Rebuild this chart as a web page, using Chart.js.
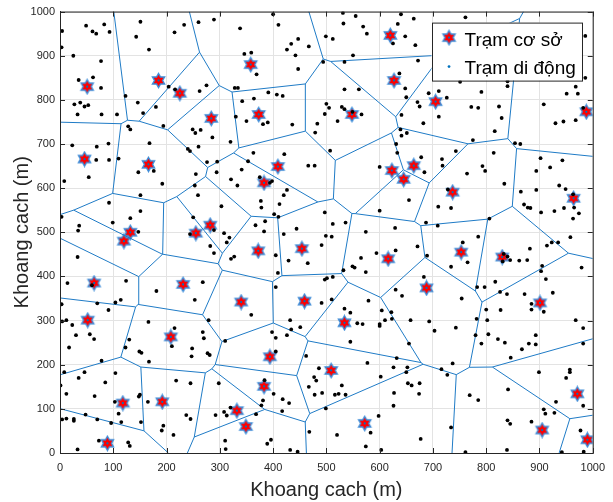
<!DOCTYPE html>
<html>
<head>
<meta charset="utf-8">
<script src="https://cdn.jsdelivr.net/npm/chart.js@4.4.1/dist/chart.umd.min.js"></script>
<style>
  html, body { margin: 0; padding: 0; background: #fff; }
</style>
</head>
<body>
<canvas id="voronoi-chart" width="613" height="502"></canvas>
<script>
// --- Datos ---
const seriesNames = ['Trạm cơ sở', 'Trạm di động'];
const axisTitle = 'Khoang cach (m)';
const axisMin = 0, axisMax = 1000, axisStep = 100;

// base stations (x, y) in metres
const baseStations = [
  [51,830],[46,666],[185,844],[225,815],[284,758],[166,654],[358,880],[373,767],[548,767],[620,946],
  [627,844],[705,796],[988,773],[409,649],[383,612],[282,516],[255,498],[132,500],[120,480],[64,385],
  [231,382],[372,458],[454,463],[340,342],[459,344],[623,640],[645,620],[664,651],[737,591],[616,440],
  [753,455],[830,444],[688,374],[964,577],[901,340],[52,301],[208,263],[118,113],[192,116],[89,22],
  [394,218],[383,151],[332,96],[349,60],[509,187],[534,295],[572,67],[905,52],[971,134],[990,30]
];

// mobile stations (x, y) in metres
const mobileStations = [
  [4,956],[49,968],[83,971],[61,955],[68,950],[93,954],[3,919],[25,900],[77,888],[35,845],
  [62,851],[77,827],[27,790],[38,794],[46,785],[53,788],[33,767],[78,767],[107,767],[23,697],
  [69,694],[91,701],[68,664],[92,664],[151,977],[143,943],[167,914],[215,953],[233,970],[260,976],
  [289,982],[204,830],[216,824],[123,809],[262,820],[275,833],[328,827],[146,794],[180,784],[156,770],
  [194,741],[249,733],[254,725],[264,732],[286,715],[320,705],[330,762],[240,689],[244,684],[260,694],
  [128,740],[132,733],[168,702],[110,667],
  [400,994],[338,962],[410,970],[531,997],[555,990],[532,973],[569,966],[576,950],[640,994],[664,984],
  [634,972],[625,928],[648,944],[667,924],[499,944],[512,938],[447,938],[434,927],[426,914],[467,921],
  [442,901],[447,870],[346,904],[359,907],[369,858],[550,901],[534,886],[494,886],[637,860],[648,826],
  [650,806],[334,827],[342,797],[364,803],[391,817],[407,812],[418,809],[350,752],[381,745],[390,749],
  [436,744],[534,824],[561,824],[500,791],[505,782],[529,784],[534,779],[549,773],[566,767],[497,768],
  [521,752],[483,746],[479,726],[641,766],[639,733],[641,719],[651,725],[631,700],[633,680],[507,685],
  [363,680],[421,677],
  [761,987],[986,945],[986,850],[672,889],[671,795],[675,785],[692,815],[711,820],[726,805],[711,762],
  [682,747],[751,841],[791,818],[840,831],[840,842],[772,784],[785,782],[824,785],[829,759],[816,729],
  [775,709],[854,702],[864,700],[968,830],[951,814],[972,814],[908,790],[930,747],[945,751],[968,754],
  [982,782],[814,680],[743,684],[678,670],[717,666],
  [8,616],[54,625],[147,636],[176,639],[192,610],[151,584],[92,567],[3,535],[36,515],[34,504],
  [99,522],[132,532],[151,548],[147,501],[33,444],[14,385],[60,380],[124,390],[3,337],[70,339],
  [104,341],[114,347],[276,659],[295,660],[255,632],[294,636],[321,620],[253,606],[259,584],[303,559],
  [250,534],[244,496],[289,505],[308,498],[318,488],[313,477],[282,469],[289,453],[321,440],[327,445],
  [268,387],[181,367],[253,347],
  [353,661],[341,642],[466,651],[478,651],[333,606],[375,625],[394,612],[398,616],[426,596],[420,584],
  [412,564],[377,571],[378,556],[402,541],[410,535],[385,525],[367,516],[383,502],[420,496],[444,508],
  [497,545],[512,519],[536,522],[499,492],[510,490],[491,471],[405,448],[429,436],[465,430],[409,408],
  [497,393],[501,396],[512,399],[532,414],[405,376],[600,648],[655,573],[600,549],[629,510],[574,501],
  [630,459],[594,453],[565,442],[549,423],[553,420],[574,410],[630,370],[642,356],[579,345],[491,340],
  [510,348],
  [684,636],[718,651],[764,633],[793,650],[798,639],[834,610],[902,668],[943,663],[920,647],[894,639],
  [894,596],[865,592],[937,606],[949,598],[963,586],[965,556],[974,543],[963,531],[946,555],[928,548],
  [903,545],[871,563],[878,556],[883,555],[728,597],[710,558],[734,555],[806,531],[687,522],[709,515],
  [785,490],[671,468],[756,477],[765,432],[734,422],[689,447],[833,451],[840,445],[831,434],[845,437],
  [862,436],[877,437],[882,463],[914,470],[923,477],[935,477],[958,489],[979,420],[905,424],[903,412],
  [912,394],[925,363],[817,388],[826,365],[839,360],[872,360],[885,338],[797,376],[783,376],[754,350],
  [683,399],
  [91,324],[4,298],[12,301],[23,290],[30,267],[56,269],[64,258],[17,239],[78,209],[8,183],
  [46,183],[35,170],[1,153],[85,160],[104,181],[12,134],[65,129],[103,116],[110,89],[115,70],
  [48,87],[4,76],[12,78],[26,77],[26,73],[70,76],[96,68],[73,28],[128,24],[131,16],
  [33,8],[166,297],[215,283],[210,242],[130,257],[123,239],[149,230],[153,227],[167,207],[268,274],
  [270,260],[279,301],[248,237],[247,219],[277,226],[281,222],[310,254],[218,164],[245,158],[298,158],
  [150,132],[148,128],[165,116],[152,70],[194,62],[191,51],[213,41],[237,86],[245,77],[292,86],
  [308,93],[313,85],[320,103],[310,28],[311,9],
  [359,313],[432,301],[434,280],[451,285],[426,267],[398,274],[405,261],[405,230],[462,220],[534,327],
  [545,318],[558,294],[568,292],[545,252],[604,323],[622,319],[623,304],[610,301],[600,292],[600,288],
  [658,301],[655,248],[632,215],[577,204],[626,194],[652,194],[650,183],[602,173],[653,158],[660,153],
  [627,136],[626,107],[486,192],[477,172],[481,164],[467,150],[478,132],[492,136],[516,132],[523,134],
  [536,132],[529,153],[499,101],[384,165],[401,134],[418,122],[430,113],[381,119],[378,108],[417,95],
  [368,88],[396,30],[389,21],[432,7],[446,3],[468,48],[520,41],[598,84],[583,46],[574,15],
  [603,7],
  [800,325],[827,324],[885,325],[908,320],[693,298],[703,277],[743,284],[782,304],[802,301],[780,267],
  [804,269],[791,248],[822,258],[835,250],[846,216],[867,235],[880,248],[893,267],[893,246],[968,301],
  [982,283],[982,248],[716,190],[727,177],[737,203],[675,158],[674,134],[769,131],[785,120],[841,144],
  [899,183],[950,170],[957,189],[957,183],[931,116],[908,99],[911,89],[928,91],[885,71],[840,74],
  [845,66],[734,58],[677,32],[977,51],[983,3],[942,2],[839,7],[761,2],[982,107]
];

// --- Utilidades ---
// Voronoi edges between base stations, clipped to the axis box
function voronoiEdges(sites, lo, hi) {
  const out = [];
  for (let i = 0; i < sites.length; i++) {
    for (let j = i + 1; j < sites.length; j++) {
      const [ax, ay] = sites[i], [bx, by] = sites[j];
      const mx = (ax + bx) / 2, my = (ay + by) / 2;
      const dx = -(by - ay), dy = bx - ax;
      let t0 = -1e9, t1 = 1e9;
      const clip = (nx, ny, c) => {
        const a = nx * dx + ny * dy, b = c - (nx * mx + ny * my);
        if (Math.abs(a) < 1e-12) { if (b < 0) t1 = -Infinity; return; }
        if (a > 0) t1 = Math.min(t1, b / a); else t0 = Math.max(t0, b / a);
      };
      clip(1, 0, hi); clip(-1, 0, -lo); clip(0, 1, hi); clip(0, -1, -lo);
      for (let k = 0; k < sites.length && t1 > t0; k++) {
        if (k === i || k === j) continue;
        const [kx, ky] = sites[k];
        clip(2 * (kx - ax), 2 * (ky - ay), kx * kx + ky * ky - ax * ax - ay * ay);
      }
      if (t1 - t0 > 1e-6) out.push([[mx + t0 * dx, my + t0 * dy], [mx + t1 * dx, my + t1 * dy]]);
    }
  }
  return out;
}

function makeHexagram(r) {
  const size = Math.ceil(2 * r + 3);
  const cv = document.createElement('canvas');
  cv.width = cv.height = size;
  const g = cv.getContext('2d');
  const c = size / 2;
  g.beginPath();
  for (let k = 0; k < 12; k++) {
    const ang = -Math.PI / 2 + k * Math.PI / 6;
    const rad = k % 2 === 0 ? r : r / Math.sqrt(3);
    const px = c + rad * Math.cos(ang), py = c + rad * Math.sin(ang);
    if (k === 0) g.moveTo(px, py); else g.lineTo(px, py);
  }
  g.closePath();
  g.fillStyle = '#ff0000';
  g.fill();
  g.strokeStyle = '#3b8bd8';
  g.lineWidth = 1.4;
  g.stroke();
  return cv;
}

const starImg = makeHexagram(7);
const edgeData = [];
voronoiEdges(baseStations, axisMin, axisMax).forEach(([p, q]) => {
  edgeData.push({x: p[0], y: p[1]}, {x: q[0], y: q[1]}, {x: q[0], y: null});
});

// frame with inward ticks (MATLAB box)
const framePlugin = {
  id: 'frame',
  afterDatasetsDraw(chart) {
    const {ctx, chartArea: a, scales: {x, y}} = chart;
    ctx.save();
    ctx.strokeStyle = '#262626';
    ctx.lineWidth = 1;
    ctx.beginPath();
    x.ticks.forEach(t => {
      const px = Math.round(x.getPixelForValue(t.value)) + 0.5;
      ctx.moveTo(px, a.bottom); ctx.lineTo(px, a.bottom - 5);
      ctx.moveTo(px, a.top); ctx.lineTo(px, a.top + 5);
    });
    y.ticks.forEach(t => {
      const py = Math.round(y.getPixelForValue(t.value)) + 0.5;
      ctx.moveTo(a.left, py); ctx.lineTo(a.left + 5, py);
      ctx.moveTo(a.right, py); ctx.lineTo(a.right - 5, py);
    });
    ctx.stroke();
    ctx.strokeRect(a.left + 0.5, a.top + 0.5, a.right - a.left, a.bottom - a.top);
    ctx.restore();
  }
};

// legend box in the upper-right corner of the axes
const boxLegendPlugin = {
  id: 'boxLegend',
  afterDraw(chart) {
    const {ctx, chartArea: a} = chart;
    const font = '19px "Liberation Sans", Arial, sans-serif';
    ctx.save();
    ctx.font = font;
    const textW = Math.max(...seriesNames.map(s => ctx.measureText(s).width));
    const w = 33 + textW + 6, h = 58;
    const left = a.right - 11 - w, top = a.top + 11;
    ctx.fillStyle = '#fff';
    ctx.fillRect(left, top, w, h);
    ctx.strokeStyle = '#262626';
    ctx.lineWidth = 1;
    ctx.strokeRect(Math.round(left) + 0.5, top + 0.5, Math.round(w), h);
    // markers
    ctx.drawImage(starImg, left + 17.5 - starImg.width / 2, top + 15 - starImg.height / 2);
    ctx.fillStyle = '#0072BD';
    ctx.beginPath(); ctx.arc(left + 17.5, top + 15, 1.1, 0, Math.PI * 2); ctx.fill();
    ctx.beginPath(); ctx.arc(left + 17.5, top + 44, 1.4, 0, Math.PI * 2); ctx.fill();
    ctx.fillStyle = '#000';
    ctx.textBaseline = 'alphabetic';
    ctx.fillText(seriesNames[0], left + 33, top + 23);
    ctx.fillText(seriesNames[1], left + 33, top + 51);
    ctx.restore();
  }
};

Chart.defaults.font.family = '"Liberation Sans", Arial, Helvetica, sans-serif';
Chart.defaults.color = '#262626';

const tickOpts = {
  min: axisMin, max: axisMax,
  ticks: {stepSize: axisStep, autoSkip: false, maxRotation: 0, font: {size: 11}, color: '#262626',
          callback: v => String(v)},
  grid: {color: '#e3e3e3', drawTicks: false},
  border: {color: '#262626'},
  title: {display: true, text: axisTitle, font: {size: 20}, color: '#262626'}
};

new Chart(document.getElementById('voronoi-chart').getContext('2d'), {
  type: 'scatter',
  data: {
    datasets: [
      {label: 'mobile', data: mobileStations.map(([x, y]) => ({x, y})),
       pointRadius: 1.9, pointBackgroundColor: '#000', pointBorderWidth: 0},
      {label: seriesNames[1], data: baseStations.map(([x, y]) => ({x, y})),
       pointRadius: 1.1, pointBackgroundColor: '#0072BD', pointBorderWidth: 0},
      {label: 'voronoi', data: edgeData, showLine: true, spanGaps: false,
       borderColor: '#1f7bc6', borderWidth: 1, pointRadius: 0},
      {label: seriesNames[0], data: baseStations.map(([x, y]) => ({x, y})),
       pointStyle: starImg, pointRadius: 7}
    ]
  },
  options: {
    responsive: false,
    devicePixelRatio: 1,
    animation: false,
    layout: {padding: {top: 8, right: 12, left: 0, bottom: 0}},
    plugins: {legend: {display: false}, tooltip: {enabled: false}},
    scales: {
      x: Object.assign({}, tickOpts, {
        type: 'linear', position: 'bottom',
        ticks: Object.assign({}, tickOpts.ticks, {padding: 8}),
        title: Object.assign({}, tickOpts.title, {padding: {top: 0, bottom: 0}}),
        afterFit: s => { s.height = 49; }
      }),
      y: Object.assign({}, tickOpts, {
        type: 'linear', position: 'left',
        ticks: Object.assign({}, tickOpts.ticks, {padding: 5}),
        title: Object.assign({}, tickOpts.title, {padding: {top: 10, bottom: 0}}),
        afterFit: s => { s.width = 60; }
      })
    }
  },
  plugins: [framePlugin, boxLegendPlugin]
});
</script>
</body>
</html>
